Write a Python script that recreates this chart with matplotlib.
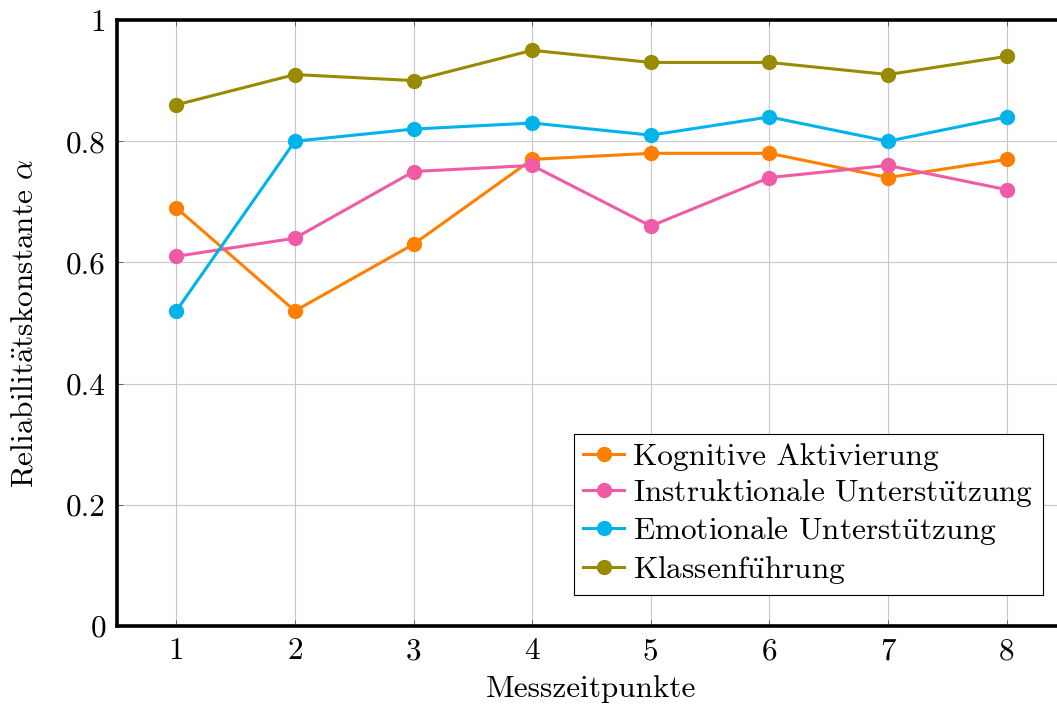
import numpy as np
import matplotlib
matplotlib.use("Agg")
import matplotlib.pyplot as plt

plt.rcParams['font.family'] = ['cmr10', 'DejaVu Serif']
plt.rcParams['mathtext.fontset'] = 'cm'
plt.rcParams['axes.formatter.use_mathtext'] = True

messzeitpunkte = [1, 2, 3, 4, 5, 6, 7, 8]
kognitive = [0.69, 0.52, 0.63, 0.77, 0.78, 0.78, 0.74, 0.77]
instruktionale = [0.61, 0.64, 0.75, 0.76, 0.66, 0.74, 0.76, 0.72]
emotionale = [0.52, 0.80, 0.82, 0.83, 0.81, 0.84, 0.80, 0.84]
klassen = [0.86, 0.91, 0.90, 0.95, 0.93, 0.93, 0.91, 0.94]

# cmr10 has no precomposed umlauts, so they go through mathtext accents
UE = r"$\ddot{\mathrm{u}}$"
AE = r"$\ddot{\mathrm{a}}$"
series_names = ["Kognitive Aktivierung", "Instruktionale Unterst" + UE + "tzung",
                "Emotionale Unterst" + UE + "tzung", "Klassenf" + UE + "hrung"]
y_ticks = [0, 0.2, 0.4, 0.6, 0.8, 1]
y_tick_labels = ["0", "0.2", "0.4", "0.6", "0.8", "1"]

colors = ["#ff8000", "#ef5ba6", "#00b4eb", "#998b00"]

fs = 22.5
fig = plt.figure(figsize=(10.57, 7.07), dpi=100)
W, H = 1057, 707
ax = fig.add_axes([117 / W, (H - 626) / H, (1066 - 117) / W, (626 - 20) / H])

for vals, name, c in zip([kognitive, instruktionale, emotionale, klassen], series_names, colors):
    ax.plot(messzeitpunkte, vals, color=c, lw=2.2, marker="o", ms=10, label=name, zorder=3)

ax.set_xlim(0.5, 8.5)
ax.set_ylim(0, 1)
ax.set_xticks(messzeitpunkte)
ax.set_xticklabels([str(m) for m in messzeitpunkte])
ax.set_yticks(y_ticks)
ax.set_yticklabels(y_tick_labels)
ax.grid(True, color="#c8c8c8", lw=0.8)
ax.tick_params(direction="in", length=4, width=0.6, color="#555555", labelsize=fs, pad=8,
               top=True, right=True)

for s in ["left", "top", "bottom"]:
    ax.spines[s].set_linewidth(2.6)
ax.spines["right"].set_visible(False)

ax.set_xlabel("Messzeitpunkte", fontsize=fs, labelpad=7)
ax.set_ylabel(r"Reliabilit" + AE + r"tskonstante $\alpha$", fontsize=fs, labelpad=20)

leg = ax.legend(loc="lower right", bbox_to_anchor=((1043 - 117) / (1066 - 117), (626 - 595) / 606),
                fontsize=fs, fancybox=False, framealpha=1, edgecolor="black",
                handlelength=1.3, handletextpad=0.3, borderpad=0.3, labelspacing=0.2,
                borderaxespad=0)
leg.get_frame().set_linewidth(0.8)

fig.savefig("out.png", dpi=100)
